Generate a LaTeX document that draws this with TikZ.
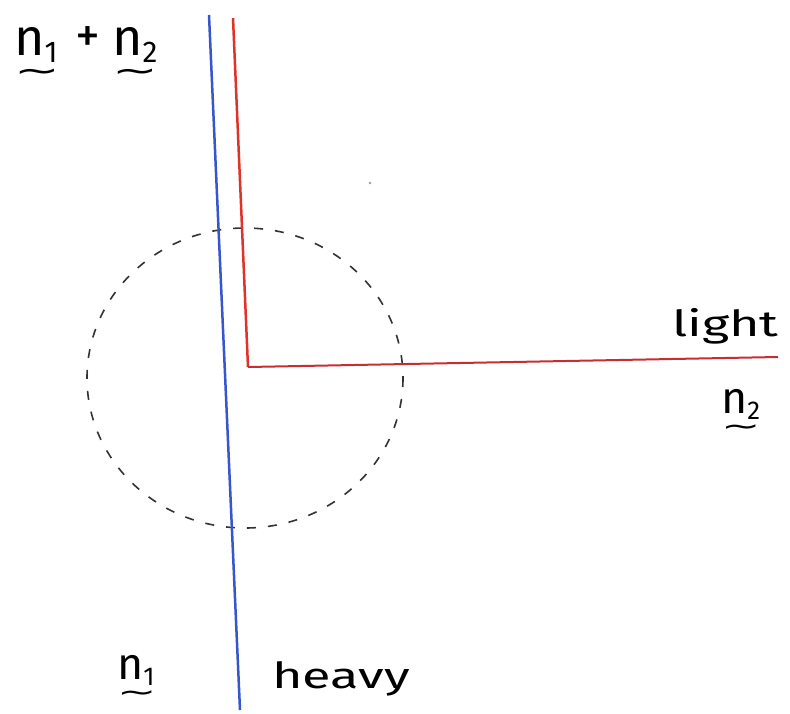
\documentclass[tikz,border=0pt]{standalone}
\usepackage{graphicx}
\usepackage{fontspec}
\setmainfont{Fira Sans}
\newfontfamily\dvs{DejaVu Sans}
\newcommand{\vn}[1]{\makebox[0pt][l]{\raisebox{-26pt}{\scalebox{2.1}[1.2]{\dvs\fontsize{26}{26}\selectfont ∼}}}{\fontsize{52}{52}\selectfont n}\raisebox{-7pt}{\fontsize{30}{30}\selectfont #1}}
\begin{document}
\begin{tikzpicture}[x=1pt,y=-1pt,
  lbl/.style={inner sep=0pt, anchor=base west},
  word/.style={lbl, font=\fontsize{36}{40}\selectfont},
  bluel/.style={draw={rgb,255:red,55;green,85;blue,205}, line width=2.5pt},
  redl/.style={draw={rgb,255:red,222;green,50;blue,42}, line width=2.5pt, line join=round},
  redh/.style={draw={rgb,255:red,200;green,45;blue,50}, line width=2pt}]
\useasboundingbox (0,0) rectangle (790,713);
\coordinate (b1) at (209,15);
\coordinate (b2) at (240,710);
\coordinate (r1) at (233,18);
\coordinate (rc) at (248,367);
\coordinate (r2) at (778,357);
\coordinate (c) at (245,378);
\draw[dash pattern=on 9pt off 12pt, line width=1.6pt, black!80] (c) ellipse [x radius=158, y radius=150];
\draw[redl] (r1) -- (rc);
\draw[redh] (rc) -- (r2);
\draw[bluel] (b1) -- (b2);
\fill[black!40] (370,183) circle (1.3);
\node[lbl] (sum) at (14,55) {\makebox[50pt][l]{\vn{1}}\makebox[48pt][c]{\raisebox{3pt}{\fontsize{50}{50}\selectfont +}}\vn{2}};
\node[word] (light) at (672,336) {\scalebox{1.45}[1]{light}};
\node[lbl] (n2) at (721,413) {\scalebox{0.86}{\vn{2}}};
\node[lbl] (n1) at (117,679) {\scalebox{0.86}{\vn{1}}};
\node[word] (heavy) at (272,688) {\scalebox{1.45}[1]{heavy}};
\end{tikzpicture}
\end{document}
